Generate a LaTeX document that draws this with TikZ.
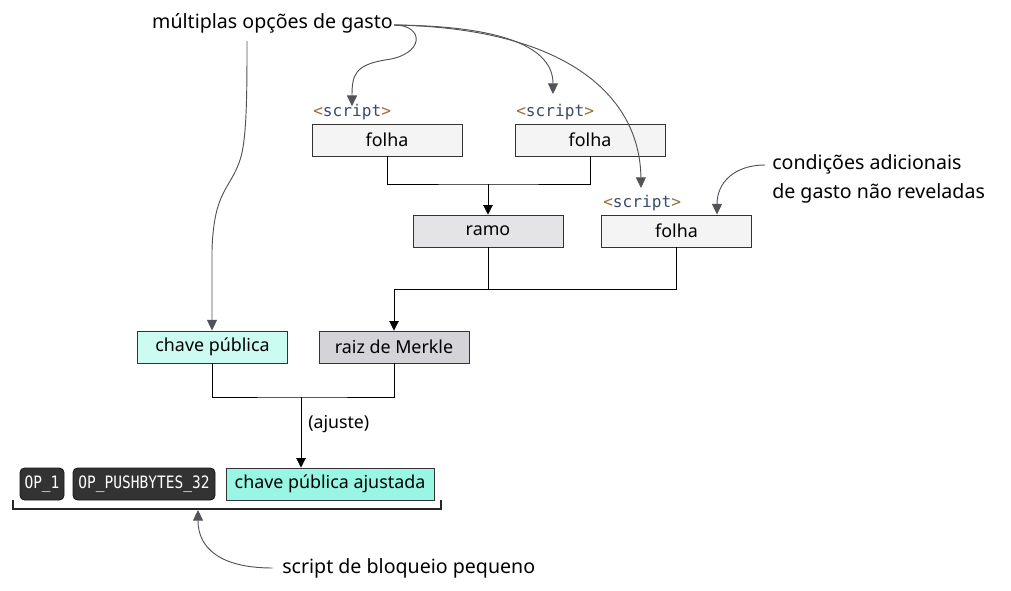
\documentclass[tikz,border=0pt]{standalone}
\usepackage{fontspec}
\setmainfont{Noto Sans}
\newfontfamily\monof{DejaVu Sans Mono}
\newfontfamily\opfont[FakeStretch=0.85]{DejaVu Sans Mono}
\usetikzlibrary{arrows.meta}
\definecolor{leaf}{HTML}{F4F4F5}
\definecolor{branch}{HTML}{E4E4E7}
\definecolor{rootc}{HTML}{D4D4D8}
\definecolor{pk}{HTML}{CCFBF1}
\definecolor{tpk}{HTML}{99F6E4}
\definecolor{opc}{HTML}{333333}
\definecolor{annot}{HTML}{3F3F46}
\definecolor{angc}{HTML}{9A6A3A}
\definecolor{scrc}{HTML}{3A4A6A}
\begin{document}
\begin{tikzpicture}[x=0.75pt,y=-0.75pt,
  box/.style={draw=black!80,line width=0.7pt,minimum height=24pt,inner sep=0pt,font=\fontsize{13.4}{16}\selectfont},
  opbox/.style={draw=black!90,fill=opc,rounded corners=3.5pt,line width=0.7pt,minimum height=24pt,inner sep=0pt,text=white,font=\opfont\fontsize{12.8}{14}\selectfont},
  lbl/.style={font=\fontsize{14.7}{21.75}\selectfont,inner sep=0pt},
  scr/.style={font=\monof\fontsize{12.1}{14}\selectfont,inner sep=0pt,anchor=base west},
  conn/.style={line width=0.7pt,black},
  tip/.style={conn,-{Triangle[width=7pt,length=7pt]}},
  ann/.style={line width=0.7pt,annot!90,-{Triangle[width=7.5pt,length=8pt]}}
]
\useasboundingbox (0,0) rectangle (1011,590);

% nodes
\node[box,fill=leaf,minimum width=112.5pt] (f1) at (387,140) {folha};
\node[box,fill=leaf,minimum width=112.5pt] (f2) at (590,140) {folha};
\node[box,fill=branch,minimum width=112.5pt] (ramo) at (488,231) {ramo};
\node[box,fill=leaf,minimum width=113pt] (f3) at (676.5,231) {folha};
\node[box,fill=pk,minimum width=113pt] (cp) at (212.5,347) {chave pública};
\node[box,fill=rootc,minimum width=112.5pt] (raiz) at (394,347) {raiz de Merkle};
\node[box,fill=tpk,minimum width=156pt] (adj) at (330,484) {chave pública ajustada};
\node[opbox,minimum width=33pt] (op1) at (42,484) {OP\_1};
\node[opbox,minimum width=106.5pt] (op2) at (144,484) {OP\_PUSHBYTES\_32};

\node[scr] (s1) at (313,116) {\textcolor{angc}{<}\textcolor{scrc}{script}\textcolor{angc}{>}};
\node[scr] (s2) at (516,116) {\textcolor{angc}{<}\textcolor{scrc}{script}\textcolor{angc}{>}};
\node[scr] (s3) at (603,207) {\textcolor{angc}{<}\textcolor{scrc}{script}\textcolor{angc}{>}};

\node[lbl,anchor=east] (multi) at (393,23) {múltiplas opções de gasto};
\node[lbl,anchor=west,align=left] (cond) at (772,179) {condições adicionais\\de gasto não reveladas};
\node[lbl,anchor=west] (small) at (282,568) {script de bloqueio pequeno};
\node[lbl,anchor=west,font=\fontsize{13.3}{16}\selectfont] (ajl) at (308,424) {(ajuste)};

% tree connectors
\coordinate (j1) at (488,184);
\draw[conn] (f1.south) |- (j1) -| (f2.south);
\draw[tip] (j1) -- (ramo.north);
\coordinate (j2) at (394,289);
\draw[conn] (ramo.south) -- (ramo.south |- j2);
\draw[conn] (j2) -| (f3.south);
\draw[tip] (j2) -- (raiz.north);
\coordinate (j3) at (301,397);
\draw[conn] (cp.south) |- (j3) -| (raiz.south);
\draw[tip] (j3) -- (j3 |- adj.north);

% bracket
\draw[line width=1.1pt,black!85] (13,500) -- (13,509) -- (441,509) -- (441,500);
\coordinate (bmid) at (198,510);

% annotation arrows
\coordinate (mstart) at (394,25);
\coordinate (mleft) at (247,41);
\draw[ann] (mstart) .. controls (425,25) and (425,55) .. (385,60) .. controls (355,65) and (352,75) .. ([yshift=-2pt]s1.north -| 352,0);
\draw[ann] (mstart) .. controls (505,26) and (553,48) .. (553,94);
\draw[ann] (mstart) .. controls (565,28) and (640,95) .. (641,188);
\draw[ann] (mleft) .. controls (247,90) and (247,140) .. (240,160) .. controls (230,190) and (214,190) .. (212,250) -- (cp.north -| 212,0);
\draw[ann] (765,165) .. controls (735,165) and (717,182) .. (f3.north -| 717,0);
\draw[ann] ([xshift=-7pt]small.west) .. controls (220,568) and (198,548) .. (bmid);
\end{tikzpicture}
\end{document}
